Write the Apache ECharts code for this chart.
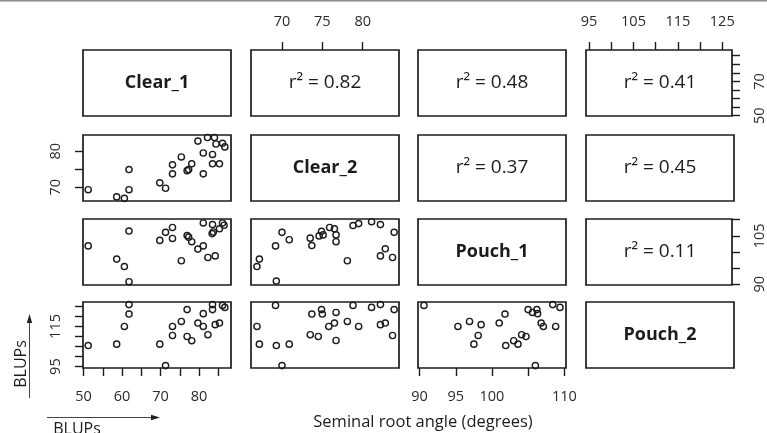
<!DOCTYPE html>
<html>
<head>
<meta charset="utf-8">
<script src="https://cdn.jsdelivr.net/npm/echarts@6/dist/echarts.min.js"></script>
<style>
html,body{margin:0;padding:0;background:#fff;}
#chart{width:767px;height:433px;}
</style>
</head>
<body>
<div id="chart"></div>
<script>
// ---------------- DATA ----------------
const variables = ['Clear_1', 'Clear_2', 'Pouch_1', 'Pouch_2'];
const axisTitle = 'Seminal root angle (degrees)';
const unitLabel = 'BLUPs';

// r² values shown in the upper triangle: [row, col, value]
const rSquaredCells = [[0, 1, 0.82], [0, 2, 0.48], [0, 3, 0.41], [1, 2, 0.37], [1, 3, 0.45], [2, 3, 0.11]];

// axis limits of each variable (R pairs default: data range + 4%)
const clear1Range = [49.85, 88.3];
const clear2Range = [66.16, 84.5];
const pouch1Range = [89.78, 110.23];
const pouch2Range = [94.3, 127.2];

// ticks and tick labels
const clear1Ticks = [50, 55, 60, 65, 70, 75, 80, 85];
const clear1BottomLabels = [50, 60, 70, 80];
const clear1RightLabels = [50, 70];
const clear2Ticks = [70, 75, 80];
const clear2TopLabels = [70, 75, 80];
const clear2LeftLabels = [70, 80];
const pouch1Ticks = [90, 95, 100, 105, 110];
const pouch1BottomLabels = [90, 95, 100, 110];
const pouch1RightLabels = [90, 105];
const pouch2Ticks = [95, 100, 105, 110, 115, 120, 125];
const pouch2TopLabels = [95, 105, 115, 125];
const pouch2LeftLabels = [95, 115];

// scatter panels: [x, y]
const clear1VsClear2 = [[51.2,69.3],[58.6,67.3],[60.6,66.9],[61.8,74.9],[61.8,69.3],[69.8,71.2],[71.3,69.7],[73.1,76.2],[73.1,73.7],[75.4,78.4],[76.9,74.6],[77.3,74.9],[78.1,76.5],[79.7,82.8],[81.1,79.5],[81.1,73.7],[82.2,83.8],[83.5,79.1],[83.5,76.5],[84.0,83.8],[84.4,82.0],[85.3,76.5],[86.1,82.2],[86.7,81.2]];
const clear1VsPouch1 = [[51.2,101.9],[58.6,97.8],[60.6,95.5],[61.8,106.5],[61.8,90.8],[69.8,103.6],[71.3,106.1],[73.1,107.6],[73.1,104.2],[75.4,97.3],[76.9,105.1],[77.3,104.6],[78.1,103.2],[79.7,100.9],[81.1,109.0],[81.1,101.9],[82.3,98.3],[83.5,108.5],[83.4,105.7],[83.7,106.2],[84.2,98.8],[85.3,107.2],[86.1,109.0],[86.5,108.3]];
const clear2VsPouch1 = [[66.9,95.5],[67.2,97.8],[69.2,101.9],[69.3,91.0],[70.0,106.1],[70.9,103.8],[73.5,104.3],[73.7,102.0],[74.6,105.0],[74.9,106.4],[75.1,105.3],[75.9,107.6],[76.5,107.2],[76.7,105.3],[76.7,103.2],[78.1,97.3],[78.8,108.2],[79.5,108.8],[81.1,109.4],[82.2,108.5],[82.2,98.8],[82.8,101.0],[83.7,98.3],[83.9,106.1]];
const clear1VsPouch2 = [[51.2,105.5],[58.6,106.2],[60.6,115.0],[61.8,121.2],[61.8,125.9],[69.8,106.2],[71.3,95.5],[73.1,115.0],[73.1,110.5],[75.4,117.5],[76.9,123.4],[76.9,110.0],[78.1,107.9],[79.7,116.7],[81.1,121.4],[81.1,115.0],[82.3,110.9],[83.5,123.4],[83.5,125.9],[84.2,115.9],[85.3,116.7],[86.1,125.5],[86.7,124.5]];
const clear2VsPouch2 = [[66.9,115.0],[67.2,106.2],[69.2,125.5],[69.3,105.5],[70.0,95.5],[70.9,106.2],[73.5,110.9],[73.7,121.2],[74.5,110.0],[74.9,123.4],[75.0,121.2],[75.8,115.0],[76.5,116.7],[76.7,122.0],[76.7,108.0],[78.1,117.5],[78.8,125.5],[79.5,115.0],[81.1,124.5],[82.2,125.9],[82.2,115.9],[82.8,116.7],[83.7,110.5],[83.9,123.4]];
const pouch1VsPouch2 = [[90.6,125.5],[95.3,115.0],[96.9,117.5],[97.5,106.2],[98.1,110.5],[98.5,115.9],[101.0,116.7],[101.8,121.2],[101.9,105.5],[103.0,107.9],[103.6,106.2],[104.1,110.9],[104.7,110.0],[105.0,123.4],[105.6,122.0],[106.0,95.5],[106.2,123.4],[106.3,121.4],[106.8,116.7],[107.1,115.0],[108.4,125.9],[108.8,115.0],[109.4,124.5]];

// ---------------- LAYOUT / STYLE ----------------
const FONT = 'Open Sans';
const colLeft = [83, 251, 418, 586];
const rowTop = [50, 135, 219, 302];
const cellW = 148, cellH = 66;
const ink = '#1c1c1c';

const ranges = [clear1Range, clear2Range, pouch1Range, pouch2Range];
const ticks = [clear1Ticks, clear2Ticks, pouch1Ticks, pouch2Ticks];
const xAxisSpec = {
  '3,0': {pos: 'bottom', labels: clear1BottomLabels},
  '0,1': {pos: 'top', labels: clear2TopLabels},
  '3,2': {pos: 'bottom', labels: pouch1BottomLabels},
  '0,3': {pos: 'top', labels: pouch2TopLabels}
};
const yAxisSpec = {
  '1,0': {pos: 'left', labels: clear2LeftLabels},
  '0,3': {pos: 'right', labels: clear1RightLabels},
  '3,0': {pos: 'left', labels: pouch2LeftLabels},
  '2,3': {pos: 'right', labels: pouch1RightLabels}
};
const panels = [
  {row: 1, col: 0, data: clear1VsClear2},
  {row: 2, col: 0, data: clear1VsPouch1},
  {row: 2, col: 1, data: clear2VsPouch1},
  {row: 3, col: 0, data: clear1VsPouch2},
  {row: 3, col: 1, data: clear2VsPouch2},
  {row: 3, col: 2, data: pouch1VsPouch2}
];

const grids = [], xAxes = [], yAxes = [], series = [], graphics = [];
const gridIndex = {};
for (let r = 0; r < 4; r++) {
  for (let c = 0; c < 4; c++) {
    const gi = grids.length;
    gridIndex[r + ',' + c] = gi;
    grids.push({left: colLeft[c], top: rowTop[r], width: cellW, height: cellH,
      show: true, borderColor: ink, borderWidth: 1.7, backgroundColor: 'transparent'});
    const xs = xAxisSpec[r + ',' + c];
    xAxes.push({
      type: 'value', gridIndex: gi, min: ranges[c][0], max: ranges[c][1],
      position: xs ? xs.pos : 'bottom',
      axisLine: {show: false},
      splitLine: {show: false},
      axisTick: {show: !!xs, length: 8, customValues: ticks[c], lineStyle: {color: ink, width: 1.4}},
      axisLabel: {show: !!xs, customValues: xs ? xs.labels : [], margin: 21,
        fontFamily: FONT, fontSize: 14.5, color: '#2a2a2a'}
    });
    const ys = yAxisSpec[r + ',' + c];
    yAxes.push({
      type: 'value', gridIndex: gi, min: ranges[r][0], max: ranges[r][1],
      position: ys ? ys.pos : 'left',
      axisLine: {show: false},
      splitLine: {show: false},
      axisTick: {show: !!ys, length: 8, customValues: ticks[r], lineStyle: {color: ink, width: 1.4}},
      axisLabel: {show: !!ys, customValues: ys ? ys.labels : [], margin: 20, rotate: 90,
        fontFamily: FONT, fontSize: 14.5, color: '#2a2a2a'}
    });
  }
}

panels.forEach(p => {
  const gi = gridIndex[p.row + ',' + p.col];
  series.push({
    type: 'scatter', xAxisIndex: gi, yAxisIndex: gi, data: p.data,
    symbol: 'circle', symbolSize: 6.2, silent: true,
    itemStyle: {color: 'rgba(0,0,0,0)', borderColor: ink, borderWidth: 1.4, opacity: 1}
  });
});

function cellCenter(r, c) { return [colLeft[c] + cellW / 2, rowTop[r] + cellH / 2]; }

variables.forEach((v, i) => {
  const [cx, cy] = cellCenter(i, i);
  graphics.push({type: 'text', x: cx, y: cy, style: {text: v, font: 'bold 18px "Open Sans"',
    fill: ink, textAlign: 'center', textVerticalAlign: 'middle'}});
});
rSquaredCells.forEach(([r, c, val]) => {
  const [cx, cy] = cellCenter(r, c);
  graphics.push({type: 'text', x: cx, y: cy, style: {text: 'r\u00B2 = ' + val.toFixed(2),
    font: '19px "Open Sans"', fill: ink, textAlign: 'center', textVerticalAlign: 'middle'}});
});

graphics.push({type: 'rect', shape: {x: 0, y: 0, width: 767, height: 1.5}, style: {fill: '#8a8a8a'}});
graphics.push({type: 'text', x: 423, y: 422, style: {text: axisTitle, font: '16.5px "Open Sans"',
  fill: ink, textAlign: 'center', textVerticalAlign: 'middle'}});
graphics.push({type: 'line', shape: {x1: 47, y1: 417.5, x2: 152, y2: 417.5}, style: {stroke: '#444', lineWidth: 1}});
graphics.push({type: 'polygon', shape: {points: [[160, 417.5], [151, 414.8], [151, 420.2]]}, style: {fill: '#222'}});
graphics.push({type: 'text', x: 77, y: 421, style: {text: unitLabel, font: '16px "Open Sans"',
  fill: ink, textAlign: 'center', textVerticalAlign: 'top'}});
graphics.push({type: 'line', shape: {x1: 29.5, y1: 398, x2: 29.5, y2: 322}, style: {stroke: '#444', lineWidth: 1}});
graphics.push({type: 'polygon', shape: {points: [[29.5, 314], [26.8, 323], [32.2, 323]]}, style: {fill: '#222'}});
graphics.push({type: 'text', x: 21, y: 364, rotation: Math.PI / 2, style: {text: unitLabel, font: '16px "Open Sans"',
  fill: ink, textAlign: 'center', textVerticalAlign: 'middle'}});

const chart = echarts.init(document.getElementById('chart'), null, {renderer: 'canvas'});
chart.setOption({
  animation: false,
  backgroundColor: '#fff',
  grid: grids, xAxis: xAxes, yAxis: yAxes, series: series,
  graphic: {elements: graphics}
});
</script>
</body>
</html>
